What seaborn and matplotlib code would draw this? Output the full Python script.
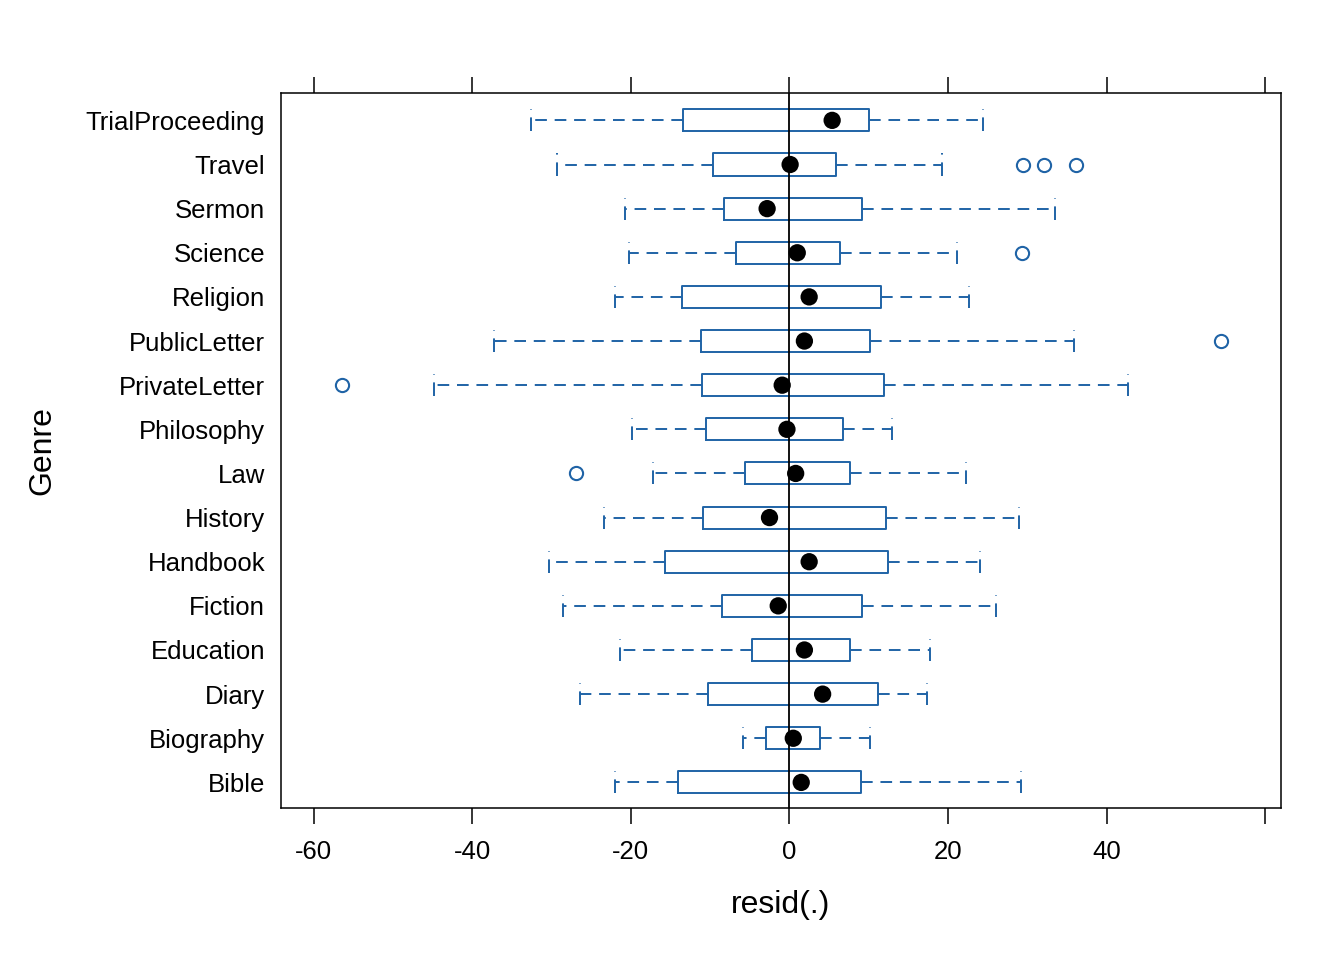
import matplotlib
matplotlib.use("Agg")
import matplotlib.pyplot as plt
import seaborn as sns
import pandas as pd

# ---- data (bottom to top) ----
genres = ["Bible", "Biography", "Diary", "Education", "Fiction", "Handbook",
          "History", "Law", "Philosophy", "PrivateLetter", "PublicLetter",
          "Religion", "Science", "Sermon", "Travel", "TrialProceeding"]
whisker_low = [-22.0, -5.9, -26.4, -21.3, -28.5, -30.3, -23.4, -17.2, -19.8,
               -44.8, -37.2, -22.0, -20.2, -20.7, -29.3, -32.6]
q1 = [-14.0, -3.0, -10.2, -4.7, -8.5, -15.7, -10.9, -5.6, -10.5,
      -11.0, -11.1, -13.5, -6.7, -8.2, -9.6, -13.4]
median = [1.5, 0.5, 4.2, 1.9, -1.4, 2.5, -2.5, 0.8, -0.3,
          -0.9, 1.9, 2.5, 1.0, -2.8, 0.1, 5.4]
q3 = [9.1, 3.9, 11.2, 7.7, 9.2, 12.5, 12.2, 7.7, 6.8,
      11.9, 10.2, 11.6, 6.4, 9.2, 5.9, 10.1]
whisker_high = [29.2, 10.2, 17.3, 17.8, 26.0, 24.0, 28.9, 22.3, 13.0,
                42.7, 35.9, 22.7, 21.1, 33.5, 19.2, 24.4]
outliers = {
    "Law": [-26.9],
    "PrivateLetter": [-56.4],
    "PublicLetter": [54.4],
    "Science": [29.3],
    "Travel": [29.5, 32.1, 36.2],
}
x_ticks = [-60, -40, -20, 0, 20, 40, 60]
x_tick_labels = ["-60", "-40", "-20", "0", "20", "40", ""]

BLUE = "#1f63a6"

sns.set_theme(style="white")
plt.rcParams["font.family"] = ["Liberation Sans", "DejaVu Sans"]

fig = plt.figure(figsize=(13.44, 9.6), dpi=100)
ax = fig.add_axes([281 / 1344, 1 - 808 / 960, 1000 / 1344, 715 / 960])

stats = []
for i, g in enumerate(genres):
    stats.append(dict(label=g, med=median[i], q1=q1[i], q3=q3[i],
                      whislo=whisker_low[i], whishi=whisker_high[i],
                      fliers=outliers.get(g, [])))

ax.bxp(stats, positions=list(range(len(genres))), widths=0.5,
       orientation="horizontal", capwidths=0.5, showfliers=True,
       boxprops=dict(color=BLUE, linewidth=1.4),
       whiskerprops=dict(color=BLUE, linewidth=1.4, linestyle=(0, (6, 4))),
       capprops=dict(color=BLUE, linewidth=1.4, linestyle=(0, (7, 4))),
       medianprops=dict(visible=False),
       flierprops=dict(marker="o", markerfacecolor="none", markeredgecolor=BLUE,
                       markersize=9.5, markeredgewidth=1.5, linestyle="none"))

ax.axvline(0, color="black", linewidth=1.3, zorder=3)

df = pd.DataFrame({"genre_pos": range(len(genres)), "median": median})
sns.scatterplot(data=df, x="median", y="genre_pos", ax=ax, color="black",
                s=155, edgecolor="none", zorder=5, legend=False)

ax.set_xlim(-64.1, 62.0)
ax.set_ylim(-0.58, 15.62)
ax.set_yticks(range(len(genres)))
ax.set_yticklabels(genres)
ax.set_xticks(x_ticks)
ax.set_xticklabels(x_tick_labels)

ax.tick_params(axis="x", which="both", direction="out", length=11.5, width=1.1,
               color="black", top=True, bottom=True, labeltop=False,
               labelbottom=True, labelsize=18.5, pad=11.5, labelcolor="black")
ax.tick_params(axis="y", length=0, labelsize=18.5, pad=11.5, labelcolor="black")

for sp in ax.spines.values():
    sp.set_visible(True)
    sp.set_color("black")
    sp.set_linewidth(1.1)

ax.set_xlabel("resid(.)", fontsize=23, color="black", labelpad=19)
ax.set_ylabel("Genre", fontsize=23, color="black", labelpad=20)
ax.grid(False)

fig.savefig("out.png", dpi=100)
